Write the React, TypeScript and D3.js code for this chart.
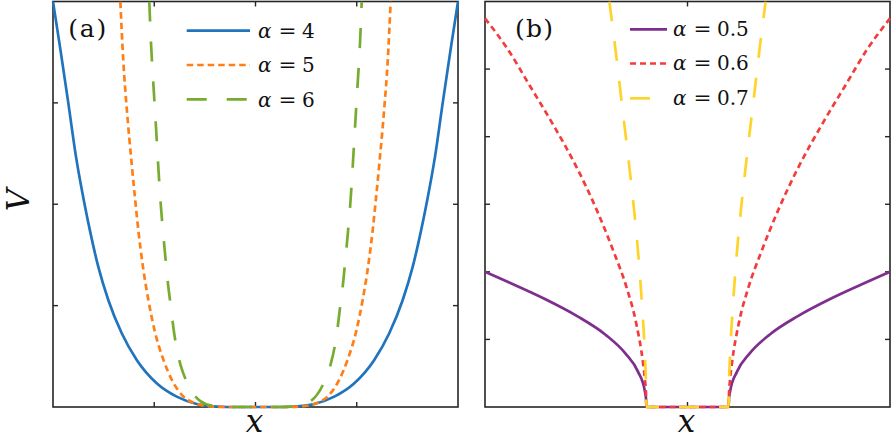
import React from 'react';
import * as d3 from 'd3';

// ---------- Panel (a) data: x in [-2, 2], V in [0, 4] ----------
const a4X = [-2.0, -1.926, -1.849, -1.773, -1.694, -1.635, -1.553, -1.454, -1.321, -1.173, -0.976, -0.778, -0.581, -0.383, -0.19, 0, 0.19, 0.383, 0.581, 0.778, 0.976, 1.173, 1.321, 1.454, 1.553, 1.635, 1.694, 1.773, 1.849, 1.926, 2.0];
const a4V = [4.0, 3.52, 3.0, 2.47, 2.03, 1.74, 1.384, 1.055, 0.727, 0.464, 0.234, 0.102, 0.03, 0.005, 0, 0, 0, 0.005, 0.03, 0.102, 0.234, 0.464, 0.727, 1.055, 1.384, 1.74, 2.03, 2.47, 3.0, 3.52, 4.0];

const a5X = [-1.335, -1.305, -1.272, -1.223, -1.19, -1.158, -1.114, -1.059, -0.993, -0.911, -0.812, -0.713, -0.598, -0.449, -0.25, 0, 0.25, 0.449, 0.598, 0.713, 0.812, 0.911, 0.993, 1.059, 1.114, 1.158, 1.19, 1.223, 1.272, 1.305, 1.335];
const a5V = [4.0, 3.4, 2.95, 2.4, 2.06, 1.75, 1.4, 1.06, 0.74, 0.47, 0.24, 0.105, 0.036, 0.006, 0, 0, 0, 0.006, 0.036, 0.105, 0.24, 0.47, 0.74, 1.06, 1.4, 1.75, 2.06, 2.4, 2.95, 3.4, 4.0];

const a6X = [-1.049, -1.032, -1.009, -0.983, -0.96, -0.936, -0.917, -0.894, -0.861, -0.838, -0.812, -0.785, -0.739, -0.68, -0.548, -0.417, -0.25, 0, 0.25, 0.417, 0.548, 0.68, 0.739, 0.785, 0.812, 0.838, 0.861, 0.894, 0.917, 0.936, 0.96, 0.983, 1.009, 1.032, 1.049];
const a6V = [4.0, 3.587, 3.19, 2.764, 2.37, 2.0, 1.77, 1.52, 1.186, 1.006, 0.792, 0.611, 0.41, 0.25, 0.06, 0.01, 0, 0, 0, 0.01, 0.06, 0.25, 0.41, 0.611, 0.792, 1.006, 1.186, 1.52, 1.77, 2.0, 2.37, 2.764, 3.19, 3.587, 4.0];

const legendA = ['4', '5', '6'];

// ---------- Panel (b) data: x in [-1, 1], V in [0, 6] ----------
const b05X = [-1, -0.883, -0.709, -0.545, -0.405, -0.306, -0.244, -0.211, -0.2045, -0.2025, 0, 0.2025, 0.2045, 0.211, 0.244, 0.306, 0.405, 0.545, 0.709, 0.883, 1];
const b05V = [2.0, 1.845, 1.605, 1.345, 1.07, 0.79, 0.52, 0.24, 0.11, 0, 0, 0, 0.11, 0.24, 0.52, 0.79, 1.07, 1.345, 1.605, 1.845, 2.0];

const b06X = [-1, -0.889, -0.778, -0.662, -0.548, -0.449, -0.365, -0.301, -0.252, -0.22, -0.21, -0.205, -0.2025, 0, 0.2025, 0.205, 0.21, 0.22, 0.252, 0.301, 0.365, 0.449, 0.548, 0.662, 0.778, 0.889, 1];
const b06V = [5.75, 5.3, 4.75, 4.17, 3.55, 2.92, 2.3, 1.77, 1.22, 0.66, 0.4, 0.2, 0, 0, 0, 0.2, 0.4, 0.66, 1.22, 1.77, 2.3, 2.92, 3.55, 4.17, 4.75, 5.3, 5.75];

const b07X = [-0.386, -0.356, -0.327, -0.291, -0.264, -0.242, -0.224, -0.21, -0.2035, -0.2025, 0, 0.2025, 0.2035, 0.21, 0.224, 0.242, 0.264, 0.291, 0.327, 0.356, 0.386];
const b07V = [6.0, 5.3, 4.56, 3.65, 2.92, 2.22, 1.48, 0.75, 0.18, 0, 0, 0, 0.18, 0.75, 1.48, 2.22, 2.92, 3.65, 4.56, 5.3, 6.0];

const legendB = ['0.5', '0.6', '0.7'];

// ---------- styling ----------
const FONT = "DejaVu Serif";
const AXC = '#262626';
const LW = 2.7;

type Series = { xs: number[]; vs: number[]; color: string; dash?: string; label: string };

type PanelProps = {
  id: string;
  left: number;
  right: number;
  xDomain: [number, number];
  yDomain: [number, number];
  xTicks: number[];
  yTicks: number[];
  series: Series[];
  tag: string;
  tagX: number;
  legLineX0: number;
  legLineX1: number;
  legTextX: number;
  legLineY: number[];
  legBaseY: number[];
};

const TOP = 1.5;
const BOTTOM = 407;
const TICK = 5;

function Panel(p: PanelProps) {
  const x = d3.scaleLinear().domain(p.xDomain).range([p.left, p.right]);
  const y = d3.scaleLinear().domain(p.yDomain).range([BOTTOM, TOP]);
  const line = d3
    .line<[number, number]>()
    .x((d) => x(d[0]))
    .y((d) => y(d[1]))
    .curve(d3.curveMonotoneX);
  const cx = (p.left + p.right) / 2;
  return (
    <g>
      <defs>
        <clipPath id={`clip-${p.id}`}>
          <rect x={p.left - 3} y={TOP} width={p.right - p.left + 6} height={BOTTOM - TOP + 4} />
        </clipPath>
      </defs>
      <rect x={p.left} y={TOP} width={p.right - p.left} height={BOTTOM - TOP} fill="none" stroke={AXC} strokeWidth={1.6} />
      {p.xTicks.map((t) => (
        <g key={`xt${t}`}>
          <line x1={x(t)} x2={x(t)} y1={BOTTOM} y2={BOTTOM - TICK} stroke={AXC} strokeWidth={1.4} />
          <line x1={x(t)} x2={x(t)} y1={TOP} y2={TOP + TICK} stroke={AXC} strokeWidth={1.4} />
        </g>
      ))}
      {p.yTicks.map((t) => (
        <g key={`yt${t}`}>
          <line x1={p.left} x2={p.left + TICK} y1={y(t)} y2={y(t)} stroke={AXC} strokeWidth={1.4} />
          <line x1={p.right} x2={p.right - TICK} y1={y(t)} y2={y(t)} stroke={AXC} strokeWidth={1.4} />
        </g>
      ))}
      <g clipPath={`url(#clip-${p.id})`}>
        {p.series.map((s, i) => (
          <path
            key={i}
            d={line(s.xs.map((xv, j) => [xv, s.vs[j]] as [number, number])) || ''}
            fill="none"
            stroke={s.color}
            strokeWidth={LW}
            strokeDasharray={s.dash}
            strokeLinejoin="round"
          />
        ))}
      </g>
      {p.series.map((s, i) => (
        <g key={`leg${i}`}>
          <line
            x1={p.legLineX0}
            x2={p.legLineX1}
            y1={p.legLineY[i]}
            y2={p.legLineY[i]}
            stroke={s.color}
            strokeWidth={LW}
            strokeDasharray={s.dash}
          />
          <text x={p.legTextX} y={p.legBaseY[i]} fontFamily={FONT} fontSize={20} fontStyle="italic" fill="#111">
            α
          </text>
          <text
            x={p.legTextX + 20.5}
            y={p.legBaseY[i]}
            fontFamily={FONT}
            fontSize={20}
            fill="#111"
            textLength={18}
            lengthAdjust="spacingAndGlyphs"
          >
            =
          </text>
          <text x={p.legTextX + 44} y={p.legBaseY[i]} fontFamily={FONT} fontSize={20} fill="#111">
            {s.label}
          </text>
        </g>
      ))}
      <text x={p.tagX} y={37} fontFamily={FONT} fontSize={25} fill="#111" textLength={38} lengthAdjust="spacing">
        {p.tag}
      </text>
      <text x={cx - 1} y={431.5} fontFamily={FONT} fontSize={31} fontStyle="italic" textAnchor="middle" fill="#111">
        x
      </text>
    </g>
  );
}

export default function App() {
  const seriesA: Series[] = [
    { xs: a4X, vs: a4V, color: '#1f74bd', label: legendA[0] },
    { xs: a5X, vs: a5V, color: '#ff7f16', dash: '6.5,4', label: legendA[1] },
    { xs: a6X, vs: a6V, color: '#77ac30', dash: '20,20', label: legendA[2] },
  ];
  const seriesB: Series[] = [
    { xs: b05X, vs: b05V, color: '#7e2f8e', label: legendB[0] },
    { xs: b06X, vs: b06V, color: '#f23d3d', dash: '6,4', label: legendB[1] },
    { xs: b07X, vs: b07V, color: '#ffd42a', dash: '20,20', label: legendB[2] },
  ];
  return (
    <svg
      width={892}
      height={442}
      viewBox="0 0 892 442"
      style={{ position: 'absolute', left: 0, top: 0, display: 'block', background: '#fff' }}
    >
      <rect x={0} y={0} width={892} height={442} fill="#fff" />
      <Panel
        id="a"
        left={53}
        right={458}
        xDomain={[-2, 2]}
        yDomain={[0, 4]}
        xTicks={[-1, 0, 1]}
        yTicks={[1, 2, 3]}
        series={seriesA}
        tag="(a)"
        tagX={68.3}
        legLineX0={186.7}
        legLineX1={250}
        legTextX={258}
        legLineY={[30.7, 65, 99.3]}
        legBaseY={[37.5, 72, 106.5]}
      />
      <Panel
        id="b"
        left={485}
        right={890}
        xDomain={[-1, 1]}
        yDomain={[0, 6]}
        xTicks={[0]}
        yTicks={[1, 2, 3, 4, 5]}
        series={seriesB}
        tag="(b)"
        tagX={515}
        legLineX0={630}
        legLineX1={667}
        legTextX={673}
        legLineY={[29.3, 63.5, 98.3]}
        legBaseY={[35.5, 70, 104.5]}
      />
      <text
        transform="translate(29,200) rotate(-90)"
        fontFamily={FONT}
        fontSize={31}
        fontStyle="italic"
        textAnchor="middle"
        fill="#111"
      >
        V
      </text>
    </svg>
  );
}
